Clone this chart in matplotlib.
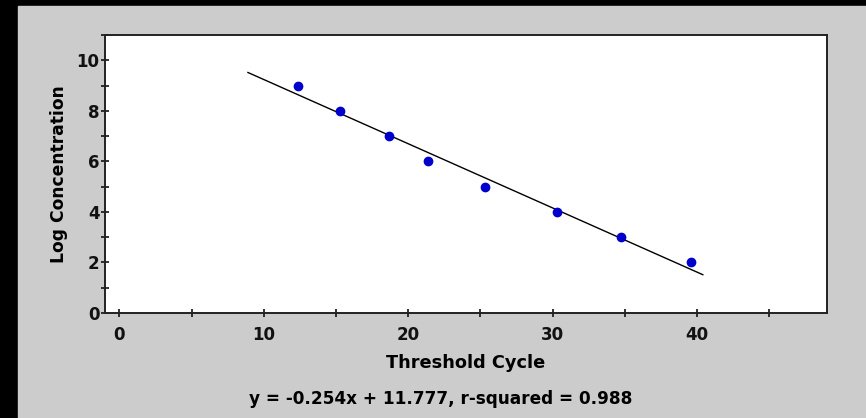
import matplotlib.pyplot as plt
import numpy as np
from matplotlib.patches import Rectangle
from matplotlib.ticker import MultipleLocator

# standard curve points (threshold cycle vs log concentration)
ct = [12.35, 15.3, 18.7, 21.35, 25.3, 30.3, 34.7, 39.6]
log_conc = [9, 8, 7, 6, 5, 4, 3, 2]

# fitted line as reported under the chart
slope = -0.254
intercept = 11.777
r_squared = 0.988
fit_range = [8.9, 40.4]

W, H = 866, 418
plt.rcParams['font.family'] = 'DejaVu Sans'
plt.rcParams['font.weight'] = 'bold'

fig = plt.figure(figsize=(W / 100, H / 100), dpi=100, facecolor='black')
# gray panel, leaving the black strip on the left and top
fig.patches.append(Rectangle((18 / W, 0), 1 - 18 / W, 1 - 6 / H,
                             transform=fig.transFigure, color='#cccccc', zorder=-10))

ax = fig.add_axes([105 / W, (H - 313) / H, (827 - 105) / W, (313 - 35) / H])
ax.set_facecolor('white')

fit_x = np.array(fit_range)
ax.plot(fit_x, slope * fit_x + intercept, color='black', lw=1.0, zorder=2)
ax.plot(ct, log_conc, 'o', color='#0000cc', markersize=6, zorder=3)

ax.set_xlim(-1, 49)
ax.set_ylim(0, 11)
ax.xaxis.set_major_locator(MultipleLocator(10))
ax.xaxis.set_minor_locator(MultipleLocator(5))
ax.yaxis.set_major_locator(MultipleLocator(2))
ax.yaxis.set_minor_locator(MultipleLocator(1))
ax.set_xticks([0, 10, 20, 30, 40])
ax.tick_params(which='both', direction='inout', length=6, width=1.2, colors='#111111')
ax.tick_params(axis='x', pad=6.5, labelsize=12)
ax.tick_params(axis='y', pad=1, labelsize=12)
for lab in ax.get_xticklabels() + ax.get_yticklabels():
    lab.set_fontweight('bold')

for s in ax.spines.values():
    s.set_color('#222222')
    s.set_linewidth(1.4)

ax.set_ylabel('Log Concentration', fontsize=12.3, fontweight='bold', labelpad=6)
fig.text(466 / W, (H - 368) / H, 'Threshold Cycle', ha='center', va='baseline',
         fontsize=12.8, fontweight='bold')
fig.text(441 / W, (H - 404) / H,
         f'y = {slope}x + {intercept}, r-squared = {r_squared}',
         ha='center', va='baseline', fontsize=12.2, fontweight='bold')

fig.savefig('out.png', dpi=100, facecolor=fig.get_facecolor())
